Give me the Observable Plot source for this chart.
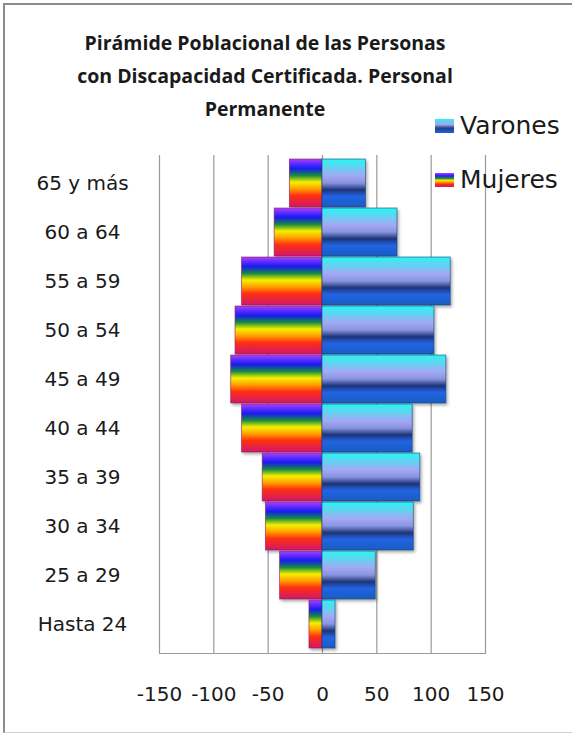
<!DOCTYPE html>
<html>
<head>
<meta charset="utf-8">
<script src="https://cdn.jsdelivr.net/npm/d3@7"></script>
<script src="https://cdn.jsdelivr.net/npm/@observablehq/plot@0.6"></script>
<style>
  html, body { margin: 0; padding: 0; background: #fff; }
  body { width: 572px; height: 738px; position: relative; overflow: hidden; font-family: "DejaVu Sans", sans-serif; }
  #frame { position: absolute; left: 3px; top: 3px; width: 575px; height: 727px; border-left: 2px solid #8c8c8c; border-top: 2px solid #8c8c8c; border-bottom: 1px solid #d0d0d0; }
  #title { position: absolute; left: 30px; width: 470px; top: 26px; text-align: center; font-family: "Open Sans", sans-serif; font-weight: 700; font-size: 19.5px; line-height: 33px; color: #1a1a1a; }
  #chart { position: absolute; left: 0; top: 140px; }
  .leg { position: absolute; left: 435px; font-size: 25px; color: #1a1a1a; display: flex; align-items: center; white-space: nowrap; }
  .sw { width: 19px; height: 14px; margin-right: 6px; }
</style>
</head>
<body>
<div id="frame"></div>
<div id="title">Pirámide Poblacional de las Personas<br>con Discapacidad Certificada. Personal<br>Permanente</div>
<div id="chart"></div>
<div class="leg" style="top:111px"><div class="sw" style="background:linear-gradient(#30eef0,#a0a8f0 40%,#22408a 65%,#2064dc)"></div>Varones</div>
<div class="leg" style="top:165px"><div class="sw" style="background:linear-gradient(#b040ff,#2a1cff 20%,#1a8a3a 38%,#f4f000 52%,#ff9a00 66%,#ff2a10 80%,#d01a6a)"></div>Mujeres</div>
<script>
const ages = ["65 y más", "60 a 64", "55 a 59", "50 a 54", "45 a 49", "40 a 44", "35 a 39", "30 a 34", "25 a 29", "Hasta 24"];
const varones = [40, 69, 118, 103, 114, 83, 90, 84, 49, 12];
const mujeres = [30, 44, 74, 80, 84, 74, 55, 52, 39, 12];
const xTicks = [-150, -100, -50, 0, 50, 100, 150];

const rows = ages.flatMap((a, i) => [
  {age: a, sexo: "Varones", x: varones[i]},
  {age: a, sexo: "Mujeres", x: -mujeres[i]}
]);

const svg = Plot.plot({
  width: 572,
  height: 580,
  marginLeft: 159,
  marginRight: 87,
  marginTop: 15,
  marginBottom: 67,
  style: {fontFamily: "'DejaVu Sans', sans-serif", fontSize: "20px", color: "#1a1a1a", background: "transparent", overflow: "visible"},
  x: {domain: [-150, 150], ticks: xTicks, label: null},
  y: {domain: ages, padding: 0.02, label: null},
  marks: [
    Plot.gridX(xTicks, {stroke: "#9a9a9a", strokeOpacity: 1, strokeWidth: 1.2}),
    Plot.frame({anchor: "bottom", stroke: "#9a9a9a", strokeWidth: 1.2}),
    Plot.barX(rows.filter(d => d.sexo === "Mujeres"), {y: "age", x1: 0, x2: "x", fill: "url(#gradM)", stroke: "#8a1850", strokeWidth: 0.8, strokeOpacity: 0.7}),
    Plot.barX(rows.filter(d => d.sexo === "Varones"), {y: "age", x1: 0, x2: "x", fill: "url(#gradV)", stroke: "#14407a", strokeWidth: 0.8, strokeOpacity: 0.7}),
    Plot.axisX(xTicks, {tickSize: 0, tickPadding: 33, tickFormat: d => String(d), fontSize: 20, label: null}),
    Plot.axisY({tickSize: 0, tickPadding: 0, textAnchor: "middle", dx: -77, fontSize: 20, label: null})
  ]
});

const ns = "http://www.w3.org/2000/svg";
const defs = document.createElementNS(ns, "defs");
defs.innerHTML = `
<linearGradient id="gradM" x1="0" y1="0" x2="0" y2="1">
  <stop offset="0" stop-color="#b040ff"/>
  <stop offset="0.1" stop-color="#5a2cff"/>
  <stop offset="0.2" stop-color="#1a1cf0"/>
  <stop offset="0.34" stop-color="#158a40"/>
  <stop offset="0.48" stop-color="#f4f000"/>
  <stop offset="0.62" stop-color="#ffa000"/>
  <stop offset="0.76" stop-color="#ff3010"/>
  <stop offset="1" stop-color="#d0186c"/>
</linearGradient>
<linearGradient id="gradV" x1="0" y1="0" x2="0" y2="1">
  <stop offset="0" stop-color="#28f4f4"/>
  <stop offset="0.15" stop-color="#5ad8f0"/>
  <stop offset="0.35" stop-color="#a4a8f4"/>
  <stop offset="0.5" stop-color="#8894e0"/>
  <stop offset="0.64" stop-color="#1e3478"/>
  <stop offset="0.78" stop-color="#2264e4"/>
  <stop offset="1" stop-color="#1a5cc0"/>
</linearGradient>
<filter id="sh" x="-10%" y="-10%" width="130%" height="140%">
  <feDropShadow dx="1.5" dy="2" stdDeviation="1.5" flood-color="#000" flood-opacity="0.35"/>
</filter>`;
svg.insertBefore(defs, svg.firstChild);
svg.querySelectorAll("g[aria-label='bar']").forEach(g => g.setAttribute("filter", "url(#sh)"));
document.getElementById("chart").appendChild(svg);
</script>
</body>
</html>
